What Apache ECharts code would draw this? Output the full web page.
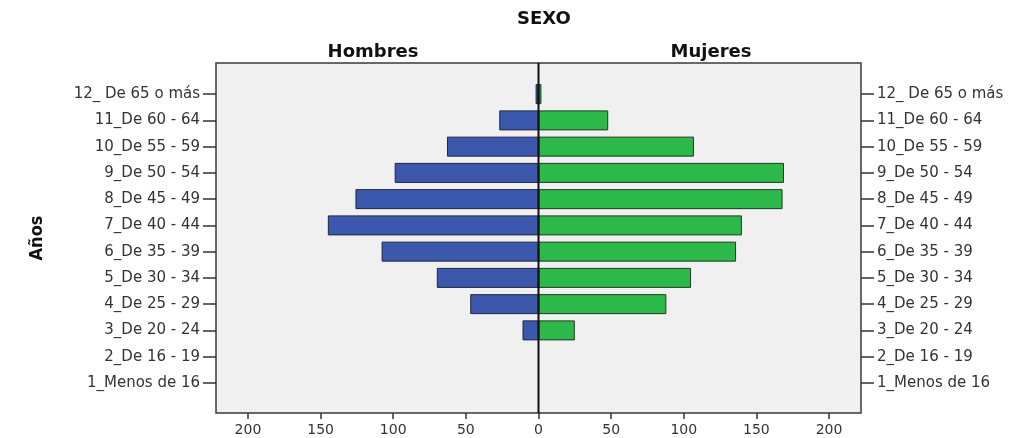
<!DOCTYPE html>
<html>
<head>
<meta charset="utf-8">
<script src="https://cdn.jsdelivr.net/npm/echarts@6/dist/echarts.min.js"></script>
<style>html,body{margin:0;padding:0;background:#fff}#c{width:1035px;height:438px}</style>
</head>
<body>
<div id="c"></div>
<script>
// Data (categories bottom -> top)
const categories = ['1_Menos de 16','2_De 16 - 19','3_De 20 - 24','4_De 25 - 29','5_De 30 - 34','6_De 35 - 39','7_De 40 - 44','8_De 45 - 49','9_De 50 - 54','10_De 55 - 59','11_De 60 - 64','12_ De 65 o más'];
const hombres = [0, 0, 11, 47, 70, 108, 145, 126, 99, 63, 27, 2];
const mujeres = [0, 0, 25, 88, 105, 136, 140, 168, 169, 107, 48, 2];
const xTicks = [-200, -150, -100, -50, 0, 50, 100, 150, 200];
const titleText = 'SEXO';
const leftHeader = 'Hombres';
const rightHeader = 'Mujeres';
const yName = 'Años';

const FONT = "'DejaVu Sans', 'Liberation Sans', sans-serif";
const LABEL_COLOR = '#333';
const XR = 222;

const chart = echarts.init(document.getElementById('c'), null, {renderer: 'canvas'});
const catAxisBase = {
  type: 'category', gridIndex: 1, data: categories,
  axisLine: {show: false, onZero: false},
  axisTick: {show: true, alignWithLabel: true, length: 13, lineStyle: {color: '#333', width: 1.5}},
  axisLabel: {margin: 16, color: LABEL_COLOR, fontFamily: FONT, fontSize: 15},
  splitLine: {show: false}
};
chart.setOption({
  animation: false,
  title: [
    {text: titleText, left: 539, top: 5, textAlign: 'center', textStyle: {fontFamily: FONT, fontWeight: 'bold', fontSize: 18, color: '#111'}},
    {text: leftHeader, left: 368, top: 38, textAlign: 'center', textStyle: {fontFamily: FONT, fontWeight: 'bold', fontSize: 18, color: '#111'}},
    {text: rightHeader, left: 706, top: 38, textAlign: 'center', textStyle: {fontFamily: FONT, fontWeight: 'bold', fontSize: 18, color: '#111'}}
  ],
  grid: [
    {left: 216, right: 174, top: 63, bottom: 25, show: true, backgroundColor: '#f0f0f0', borderColor: '#3a3a3a', borderWidth: 1.5, containLabel: false},
    {left: 216, right: 174, top: 81, bottom: 42, containLabel: false}
  ],
  xAxis: [
    {type: 'value', gridIndex: 0, min: -XR, max: XR,
     axisLine: {show: false, onZero: false},
     axisTick: {show: true, customValues: xTicks, length: 6, lineStyle: {color: '#333', width: 1.5}},
     axisLabel: {customValues: xTicks, formatter: v => String(Math.abs(v)), margin: 10, color: LABEL_COLOR, fontFamily: FONT, fontSize: 14},
     splitLine: {show: false}},
    {type: 'value', gridIndex: 1, min: -XR, max: XR, show: false, splitLine: {show: false}}
  ],
  yAxis: [
    {type: 'value', gridIndex: 0, min: 0, max: 1,
     axisLine: {show: false, onZero: false}, axisTick: {show: false}, axisLabel: {show: false}, splitLine: {show: false},
     name: yName, nameLocation: 'middle', nameGap: 170,
     nameTextStyle: {fontFamily: "'DejaVu Sans Condensed', 'DejaVu Sans', sans-serif", fontWeight: 'bold', fontSize: 18, color: '#111'}},
    Object.assign({}, catAxisBase, {position: 'left'}),
    Object.assign({}, catAxisBase, {position: 'right'})
  ],
  series: [
    {name: leftHeader, type: 'bar', xAxisIndex: 1, yAxisIndex: 1, barWidth: 20, barGap: '-100%',
     data: hombres.map(v => -v),
     itemStyle: {color: '#3c58ad', borderColor: '#1f2540', borderWidth: 1}},
    {name: rightHeader, type: 'bar', xAxisIndex: 1, yAxisIndex: 1, barWidth: 20, barGap: '-100%',
     data: mujeres,
     itemStyle: {color: '#2db84a', borderColor: '#1e3a22', borderWidth: 1}},
    {type: 'line', xAxisIndex: 0, yAxisIndex: 0, z: 10, symbol: 'none', silent: true,
     data: [[0, 0], [0, 1]], lineStyle: {color: '#111', width: 2}}
  ]
});
</script>
</body>
</html>
